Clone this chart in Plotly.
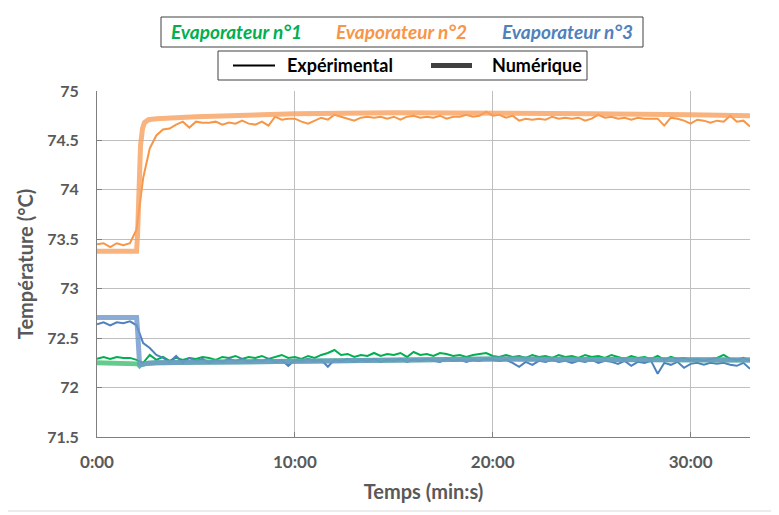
import numpy as np
import plotly.graph_objects as go

# Temps des mesures (min), un point toutes les 20 s
t_exp = np.arange(100) / 3.0

evap1_exp = [72.29, 72.31, 72.29, 72.31, 72.30, 72.30, 72.28, 72.25, 72.33, 72.28,
             72.31, 72.27, 72.30, 72.28, 72.30, 72.29, 72.31, 72.30, 72.28, 72.31,
             72.30, 72.32, 72.29, 72.31, 72.30, 72.32, 72.29, 72.31, 72.33, 72.30,
             72.31, 72.29, 72.32, 72.30, 72.33, 72.35, 72.38, 72.33, 72.34, 72.31,
             72.33, 72.32, 72.35, 72.32, 72.34, 72.33, 72.35, 72.31, 72.36, 72.33,
             72.34, 72.32, 72.35, 72.34, 72.32, 72.33, 72.31, 72.33, 72.34, 72.35,
             72.32, 72.31, 72.33, 72.31, 72.32, 72.30, 72.33, 72.31, 72.32, 72.30,
             72.33, 72.31, 72.32, 72.30, 72.33, 72.31, 72.32, 72.30, 72.33, 72.31,
             72.29, 72.32, 72.30, 72.31, 72.29, 72.32, 72.28, 72.31, 72.29, 72.30,
             72.28, 72.29, 72.27, 72.29, 72.30, 72.33, 72.29, 72.28, 72.30, 72.27]

evap2_exp = [73.45, 73.46, 73.42, 73.46, 73.44, 73.46, 73.60, 74.12, 74.42, 74.55,
             74.61, 74.62, 74.66, 74.69, 74.63, 74.69, 74.68, 74.68, 74.69, 74.66,
             74.68, 74.67, 74.70, 74.67, 74.66, 74.69, 74.65, 74.74, 74.71, 74.72,
             74.72, 74.69, 74.67, 74.70, 74.73, 74.71, 74.76, 74.74, 74.72, 74.70,
             74.73, 74.74, 74.73, 74.74, 74.72, 74.74, 74.71, 74.74, 74.75, 74.73,
             74.74, 74.73, 74.75, 74.72, 74.74, 74.74, 74.76, 74.74, 74.75, 74.79,
             74.75, 74.76, 74.73, 74.75, 74.70, 74.72, 74.71, 74.72, 74.71, 74.74,
             74.72, 74.73, 74.72, 74.73, 74.70, 74.72, 74.76, 74.73, 74.74, 74.72,
             74.73, 74.71, 74.73, 74.72, 74.72, 74.72, 74.65, 74.73, 74.72, 74.70,
             74.67, 74.71, 74.70, 74.68, 74.70, 74.69, 74.75, 74.69, 74.70, 74.64]

evap3_exp = [72.64, 72.66, 72.63, 72.66, 72.65, 72.67, 72.63, 72.45, 72.40, 72.33,
             72.30, 72.26, 72.32, 72.25, 72.30, 72.27, 72.29, 72.25, 72.28, 72.26,
             72.29, 72.27, 72.29, 72.26, 72.28, 72.27, 72.29, 72.26, 72.28, 72.22,
             72.28, 72.27, 72.29, 72.27, 72.28, 72.21, 72.28, 72.27, 72.29, 72.26,
             72.28, 72.27, 72.29, 72.26, 72.28, 72.27, 72.29, 72.26, 72.28, 72.27,
             72.29, 72.27, 72.26, 72.29, 72.27, 72.28, 72.26, 72.28, 72.27, 72.29,
             72.28, 72.27, 72.28, 72.25, 72.21, 72.26, 72.23, 72.27, 72.26, 72.28,
             72.26, 72.27, 72.25, 72.27, 72.26, 72.28, 72.25, 72.27, 72.26, 72.24,
             72.27, 72.22, 72.26, 72.25, 72.27, 72.14, 72.25, 72.23, 72.26, 72.20,
             72.24, 72.25, 72.23, 72.25, 72.24, 72.25, 72.23, 72.22, 72.25, 72.19]

# Résultats numériques
t_num = [0, 2.0, 2.05, 2.1, 2.15, 2.2, 2.3, 2.4, 2.6, 3, 5, 10, 15, 20, 25, 30, 33]
evap1_num = [72.25, 72.25, 72.24, 72.23, 72.22, 72.23, 72.24, 72.24, 72.245, 72.25,
             72.255, 72.27, 72.285, 72.29, 72.285, 72.28, 72.28]
evap2_num = [73.38, 73.38, 73.55, 73.90, 74.20, 74.45, 74.62, 74.68, 74.71, 74.72,
             74.74, 74.77, 74.78, 74.78, 74.77, 74.76, 74.75]
evap3_num = [72.71, 72.71, 72.58, 72.35, 72.24, 72.23, 72.24, 72.24, 72.245, 72.25,
             72.255, 72.27, 72.285, 72.29, 72.285, 72.28, 72.28]

x_ticks = [0, 10, 20, 30]
x_labels = ['0:00', '10:00', '20:00', '30:00']

names = ['Evaporateur n°1', 'Evaporateur n°2', 'Evaporateur n°3']
col_exp = ['#00B050', '#F79646', '#4F81BD']
col_num = ['rgba(60,190,110,0.8)', 'rgba(247,160,95,0.8)', 'rgba(110,150,205,0.8)']

FONT = 'Lato'
GREY = '#595959'

fig = go.Figure()

for y, c in zip([evap1_exp, evap2_exp, evap3_exp], col_exp):
    fig.add_trace(go.Scatter(x=t_exp, y=y, mode='lines', line=dict(color=c, width=2),
                             showlegend=False, hoverinfo='skip'))

for y, c in zip([evap1_num, evap2_num, evap3_num], col_num):
    fig.add_trace(go.Scatter(x=t_num, y=y, mode='lines', line=dict(color=c, width=5),
                             showlegend=False, hoverinfo='skip'))

# conversion pixels (fenêtre) -> repère papier
def px(x):
    return (x - 97) / 653.0

def py(y):
    return (437 - y) / 346.0

# légende des évaporateurs (texte coloré)
fig.add_shape(type='rect', xref='paper', yref='paper', x0=px(161), x1=px(643),
              y0=py(47), y1=py(17), line=dict(color='#404040', width=1))
for name, c, cx in zip(names, col_exp, [236, 401, 567]):
    fig.add_annotation(text='<b><i>%s</i></b>' % name, xref='paper', yref='paper',
                       x=px(cx), y=py(32), xanchor='center', yanchor='middle',
                       showarrow=False, font=dict(family=FONT, size=19, color=c))

# légende des styles de trait
fig.add_shape(type='rect', xref='paper', yref='paper', x0=px(218), x1=px(587),
              y0=py(80), y1=py(51), line=dict(color='#404040', width=1))
fig.add_shape(type='line', xref='paper', yref='paper', x0=px(233), x1=px(275),
              y0=py(65.5), y1=py(65.5), line=dict(color='black', width=2))
fig.add_shape(type='line', xref='paper', yref='paper', x0=px(431), x1=px(472),
              y0=py(65.5), y1=py(65.5), line=dict(color='#404040', width=5))
for txt, lx in zip(['Expérimental', 'Numérique'], [285, 490]):
    fig.add_annotation(text='<b>%s</b>' % txt, xref='paper', yref='paper',
                       x=px(lx), y=py(65.5), xanchor='left', yanchor='middle',
                       showarrow=False, font=dict(family=FONT, size=18, color='black'))

# cadre du graphique
fig.add_shape(type='rect', xref='paper', yref='paper', x0=px(6), x1=px(773),
              y0=py(511), y1=py(3), line=dict(color='#D9D9D9', width=1))

# la page ajoute une marge de 8 px autour de la figure
fig.update_layout(
    width=771, height=507,
    margin=dict(l=89, r=29, t=83, b=78),
    plot_bgcolor='white', paper_bgcolor='white',
    font=dict(family=FONT, color=GREY),
    showlegend=False,
    xaxis=dict(range=[0, 33], tickvals=x_ticks, ticktext=x_labels,
               showgrid=True, gridcolor='#BFBFBF', gridwidth=1,
               showline=True, linecolor='#7F7F7F', linewidth=1,
               ticks='inside', ticklen=5, tickcolor='#7F7F7F', ticklabelstandoff=10,
               tickfont=dict(family=FONT, size=17, color=GREY, weight='bold'),
               title=dict(text='<b>Temps (min:s)</b>', font=dict(family=FONT, size=20, color=GREY),
                          standoff=13),
               zeroline=False),
    yaxis=dict(range=[71.5, 75], dtick=0.5,
               showgrid=True, gridcolor='#BFBFBF', gridwidth=1,
               showline=True, linecolor='#7F7F7F', linewidth=1,
               ticks='inside', ticklen=5, tickcolor='#7F7F7F', ticklabelstandoff=14,
               tickfont=dict(family=FONT, size=16, color=GREY, weight='bold'),
               title=dict(text='<b>Température (°C)</b>', font=dict(family=FONT, size=20, color=GREY),
                          standoff=8),
               zeroline=False),
)

fig.write_html('out.html')
